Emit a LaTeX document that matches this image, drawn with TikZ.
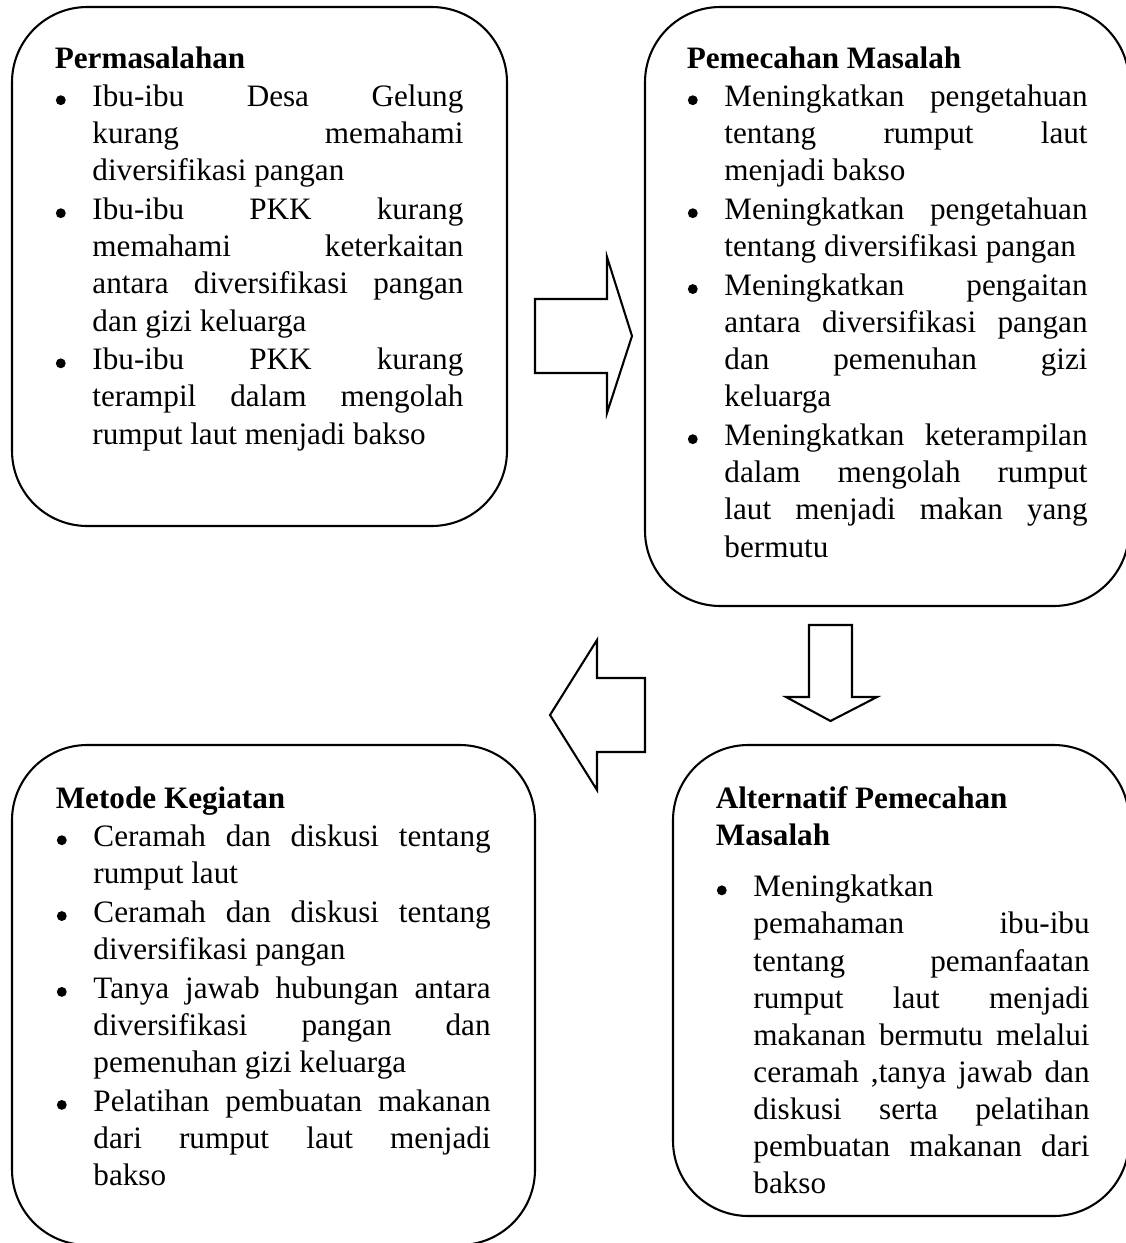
\documentclass[tikz,border=0pt]{standalone}
\usepackage{fontspec}
\setmainfont{Liberation Serif}
\usetikzlibrary{positioning,fit}
\tolerance=10000 \hbadness=10000 \hyphenpenalty=10000 \exhyphenpenalty=10000
\newlength{\butirind}\setlength{\butirind}{14.5pt}
\newcommand{\titik}{\tikz[baseline=0pt]\fill (0,2.5pt) circle (1.9pt);}
\newcommand{\butir}{\par\vspace{0.6pt}\hangindent=\butirind\hangafter=1\noindent\makebox[\butirind][l]{\hspace{0.4pt}\titik}}
\newcommand{\judul}[1]{\noindent\textbf{#1}}
\tikzset{
  kotak/.style={draw,line width=0.8pt,rounded corners=29pt,inner sep=0pt},
  isi/.style={anchor=base west,align=justify,inner sep=0pt,font={\fontsize{12}{14.3}\selectfont}},
  panah/.style={draw,line width=0.8pt,fill=white,line join=miter},
}

\begin{document}
\begin{tikzpicture}[x=0.385pt,y=-0.385pt]
  \useasboundingbox (0,0) rectangle (1126,1243);
  % kotak
  \node[kotak,fit={(12,7) (507,526)}] (masalah) {};
  \node[kotak,fit={(645,7) (1129,606)}] (pemecahan) {};
  \node[kotak,fit={(12,745) (535,1245)}] (metode) {};
  \node[kotak,fit={(673,745) (1129,1216)}] (alternatif) {};
  % isi
  \node[isi,text width=157.3pt] (masalahT) at (54.3,68) {\judul{Permasalahan}
    \butir Ibu-ibu Desa Gelung\linebreak kurang memahami\linebreak diversifikasi pangan
    \butir Ibu-ibu PKK kurang\linebreak memahami keterkaitan\linebreak antara diversifikasi pangan\linebreak dan gizi keluarga
    \butir Ibu-ibu PKK kurang\linebreak terampil dalam mengolah\linebreak rumput laut menjadi bakso\par};
  \node[isi,text width=154.3pt] (pemecahanT) at (686.3,68) {\judul{Pemecahan Masalah}
    \butir Meningkatkan pengetahuan\linebreak tentang rumput laut\linebreak menjadi bakso
    \butir Meningkatkan pengetahuan\linebreak tentang diversifikasi pangan
    \butir Meningkatkan pengaitan\linebreak antara diversifikasi pangan\linebreak dan pemenuhan gizi\linebreak keluarga
    \butir Meningkatkan keterampilan\linebreak dalam mengolah rumput\linebreak laut menjadi makan yang\linebreak bermutu\par};
  \node[isi,text width=167.4pt] (metodeT) at (55.3,808) {\judul{Metode Kegiatan}
    \butir Ceramah dan diskusi tentang\linebreak rumput laut
    \butir Ceramah dan diskusi tentang\linebreak diversifikasi pangan
    \butir Tanya jawab hubungan antara\linebreak diversifikasi pangan dan\linebreak pemenuhan gizi keluarga
    \butir Pelatihan pembuatan makanan\linebreak dari rumput laut menjadi\linebreak bakso\par};
  \node[isi,text width=143.9pt] (alternatifT) at (715.3,808) {\judul{Alternatif Pemecahan\newline Masalah}\par\vspace{5pt}
    \butir Meningkatkan\linebreak pemahaman ibu-ibu\linebreak tentang pemanfaatan\linebreak rumput laut menjadi\linebreak makanan bermutu melalui\linebreak ceramah ,tanya jawab dan\linebreak diskusi serta pelatihan\linebreak pembuatan makanan dari\linebreak bakso\par};
  % panah blok
  \draw[panah] (535,299) -- (607,299) -- (607,257) -- (632,336) -- (607,413) -- (607,373) -- (535,373) -- cycle;
  \draw[panah] (809,625) -- (852,625) -- (852,697) -- (877,697) -- (830.5,721) -- (786,697) -- (809,697) -- cycle;
  \draw[panah] (645,678) -- (597,678) -- (597,640) -- (550,715) -- (597,790) -- (597,752) -- (645,752) -- cycle;
\end{tikzpicture}
\end{document}
